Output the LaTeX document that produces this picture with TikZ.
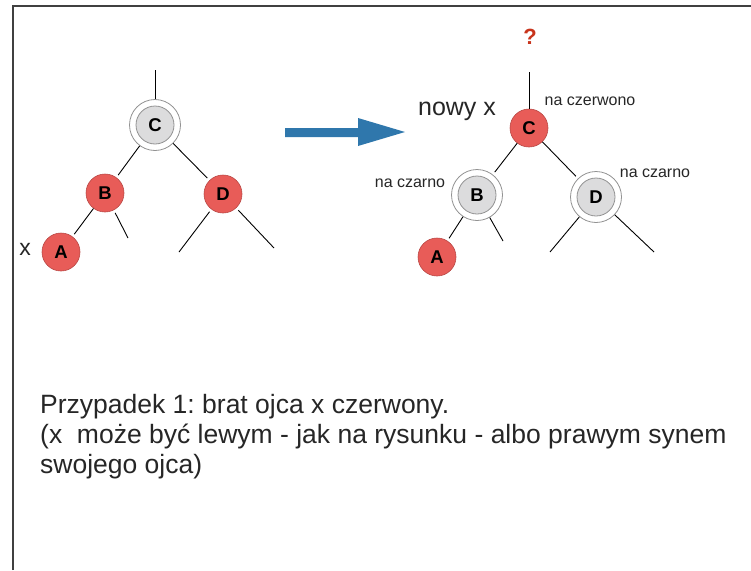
\documentclass[tikz,border=0pt]{standalone}
\usepackage{fontspec}
\setmainfont{Liberation Sans}
\frenchspacing
\definecolor{nodered}{HTML}{E85C58}
\definecolor{redline}{HTML}{B94845}
\definecolor{nodegray}{HTML}{DCDCDD}
\definecolor{ringgray}{HTML}{929292}
\definecolor{arrowblue}{HTML}{2F77AC}
\definecolor{qred}{HTML}{C8341C}
\begin{document}
\begin{tikzpicture}[x=1pt,y=-1pt,
  rn/.style={circle, fill=nodered, draw=redline, line width=0.6pt, minimum size=38pt, inner sep=0pt, font=\bfseries\fontsize{18.5}{18.5}\selectfont},
  gn/.style={circle, fill=nodegray, draw=ringgray, line width=0.8pt, minimum size=38pt, inner sep=0pt, font=\bfseries\fontsize{18.5}{18.5}\selectfont},
  ring/.style={circle, fill=white, draw=ringgray, line width=0.8pt, minimum size=51pt, inner sep=0pt},
  edge/.style={line width=0.9pt, black, shorten >=3pt},
  leaf/.style={line width=0.9pt, black, shorten <=3pt},
  small/.style={font=\fontsize{16}{16}\selectfont, text=black!85, inner sep=0pt},
  big/.style={font=\fontsize{25}{25}\selectfont, text=black!85, inner sep=0pt}]
\useasboundingbox (0,0) rectangle (751,570);
\draw[line width=1.2pt, black!75] (13,570) -- (13,6) -- (751,6);

% left tree
\node[ring] (lCr) at (155,125) {};
\node[gn] (lC) at (155,125) {C};
\node[rn] (lB) at (105,193) {B};
\node[rn] (lD) at (223,194) {D};
\node[rn] (lA) at (61,252) {A};
\coordinate (lTop) at (155,70);
\coordinate (lBr) at (128,238);
\coordinate (lDl) at (179,252);
\coordinate (lDr) at (274,248);
\draw[line width=0.9pt] (lTop) -- (lCr);
\draw[edge] (lCr) -- (lB);
\draw[edge] (lCr) -- (lD);
\draw[edge] (lB) -- (lA);
\draw[leaf] (lB) -- (lBr);
\draw[leaf] (lD) -- (lDl);
\draw[leaf] (lD) -- (lDr);
\node[big, font=\fontsize{23}{23}\selectfont] (lx) at (25,249) {x};

% arrow
\fill[arrowblue] (285,128) -- (358,128) -- (358,118) -- (405,132) -- (358,146) -- (358,137) -- (285,137) -- cycle;

% right tree
\node[rn] (rC) at (529,128) {C};
\node[ring] (rBr) at (477,195) {};
\node[gn] (rB) at (477,195) {B};
\node[ring] (rDr) at (596,197) {};
\node[gn] (rD) at (596,197) {D};
\node[rn] (rA) at (437,257) {A};
\coordinate (rTop) at (529,72);
\coordinate (rBrr) at (503,241);
\coordinate (rDl) at (550,252);
\coordinate (rDrr) at (654,252);
\draw[line width=0.9pt] (rTop) -- (rC);
\draw[edge] (rC) -- (rBr);
\draw[edge] (rC) -- (rDr);
\draw[edge] (rBr) -- (rA);
\draw[line width=0.9pt] (rBr) -- (rBrr);
\draw[line width=0.9pt] (rDr) -- (rDl);
\draw[line width=0.9pt] (rDr) -- (rDrr);
\node[font=\bfseries\fontsize{22}{22}\selectfont, text=qred, inner sep=0pt] (q) at (530,37) {?};
\node[big] (nx) at (457,111) {nowy x};
\node[small] (ncz) at (590,101) {na czerwono};
\node[small] (nc1) at (410,183) {na czarno};
\node[small] (nc2) at (655,173) {na czarno};

% caption
\node[anchor=north west, align=left, inner sep=0pt, text=black!85,
  font=\fontsize{26.5}{30}\selectfont] (cap) at (40,394)
  {Przypadek 1: brat ojca x czerwony.\\(x\ \ może być lewym - jak na rysunku - albo prawym synem\\swojego ojca)};
\end{tikzpicture}
\end{document}
